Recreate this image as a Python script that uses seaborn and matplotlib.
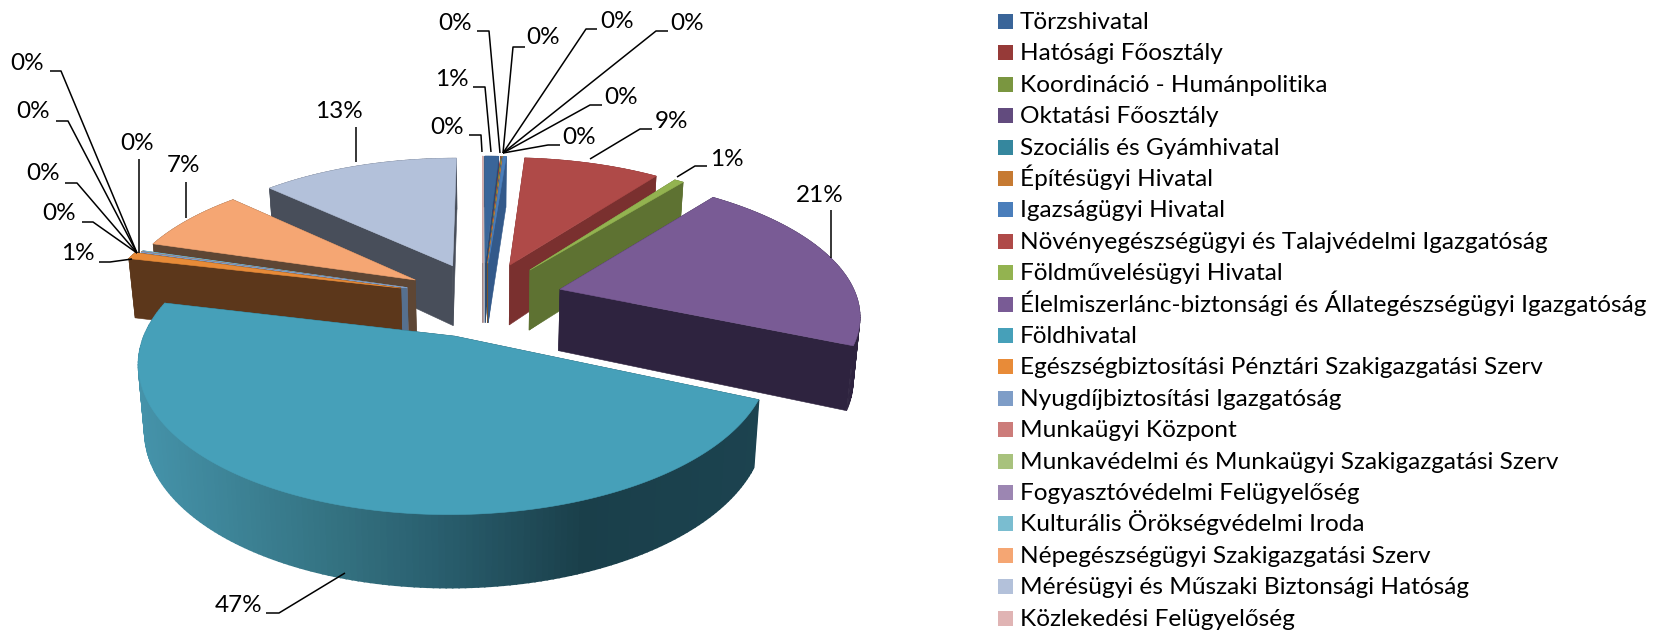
import numpy as np
import matplotlib
matplotlib.use("Agg")
import matplotlib.pyplot as plt
from matplotlib.patches import Rectangle
from matplotlib.colors import to_rgb
import seaborn as sns

# ---------- data ----------
categories = ["Törzshivatal", "Hatósági Főosztály", "Koordináció - Humánpolitika", "Oktatási Főosztály",
              "Szociális és Gyámhivatal", "Építésügyi Hivatal", "Igazságügyi Hivatal",
              "Növényegészségügyi és Talajvédelmi Igazgatóság", "Földművelésügyi Hivatal",
              "Élelmiszerlánc-biztonsági és Állategészségügyi Igazgatóság", "Földhivatal",
              "Egészségbiztosítási Pénztári Szakigazgatási Szerv", "Nyugdíjbiztosítási Igazgatóság",
              "Munkaügyi Központ", "Munkavédelmi és Munkaügyi Szakigazgatási Szerv",
              "Fogyasztóvédelmi Felügyelőség", "Kulturális Örökségvédelmi Iroda",
              "Népegészségügyi Szakigazgatási Szerv", "Mérésügyi és Műszaki Biztonsági Hatóság",
              "Közlekedési Felügyelőség"]
values = [0.9, 0.03, 0.05, 0.01, 0.01, 0.01, 0.2, 8.85, 0.6, 20.9, 47.2,
          0.8, 0.02, 0.02, 0.02, 0.04, 0.10, 7.4, 12.85, 0.02]

# ---------- style ----------
colors = ["#3A6599", "#A03E3C", "#7A9640", "#624B7E", "#35879E", "#C67A32", "#4A7EBB", "#AF4A48",
          "#93B350", "#795B95", "#46A0B9", "#E88B38", "#7E9DC7", "#CC7C7A", "#A8C27D", "#9C86B2",
          "#7ABDD0", "#F5A673", "#B3C1DA", "#DDB0B0"]
wall_colors = ["#2C4A70", "#6F2B2A", "#56692E", "#40325A", "#255E6E", "#8C5520", "#33598A", "#7A302F",
               "#5E7232", "#2E233F", "#1C4350", "#5C371B", "#56708F", "#8F5553", "#768A58", "#6C5D7D",
               "#3E5F74", "#5E4634", "#484E5A", "#9A7A7A"]
legend_colors = ["#3A6599", "#963A38", "#7A9640", "#624B7E", "#35879E", "#C67A32", "#4A7EBB", "#AF4A48",
                 "#93B350", "#795B95", "#46A0B9", "#E88B38", "#7E9DC7", "#CC7C7A", "#A8C27D", "#9C86B2",
                 "#7ABDD0", "#F5A673", "#B3C1DA", "#E0B4B4"]
explode = [0.27] * 10 + [0.285, 0.29] + [0.27] * 8

sns.set_theme(style="white")
plt.rcParams['font.family'] = ['Lato', 'DejaVu Sans']
palette = sns.color_palette(colors)

fig = plt.figure(figsize=(16.63, 6.31), dpi=100)
ax = fig.add_axes([0, 0, 1, 1])
ax.set_xlim(0, 1663)
ax.set_ylim(631, 0)
ax.axis("off")

# ---------- projection ----------
Px, Py, A, B, K, D = 483, 298, 297, 135, 0.164, 62

def project(u, v, z=0.0):
    s = 1 / (1 + K * v)
    x = Px + A * u * s * (1 - 0.018 * z)
    y = Py - B * v * s + z * D * (1 - 0.14 * v)
    return x, y

teal_x = [140, 345, 430, 583, 770]
teal_rgb = np.array([to_rgb(c) for c in ["#4593AA", "#33707F", "#2A6070", "#1A3F4A", "#1C4350"]])

def teal_shade(x):
    return tuple(np.interp(x, teal_x, teal_rgb[:, i]) for i in range(3))

def fill(xs, ys, c, zorder, lw=0.4):
    ax.fill(xs, ys, facecolor=c, edgecolor=c, linewidth=lw, zorder=zorder)

shares = np.array(values) / np.sum(values)
edges = np.concatenate([[0], np.cumsum(shares)]) * 2 * np.pi

def draw_slice(i, z):
    t0, t1 = edges[i], edges[i + 1]
    m = (t0 + t1) / 2
    cu, cv = explode[i] * np.sin(m), explode[i] * np.cos(m)
    n = max(2, int(np.degrees(t1 - t0) / 1.0) + 2)
    t = np.linspace(t0, t1, n)
    u = cu + np.sin(t)
    v = cv + np.cos(t)
    ou = np.r_[cu, u, cu]
    ov = np.r_[cv, v, cv]
    quads = []
    for k in range(len(ou) - 1):
        uu = [ou[k], ou[k + 1]]
        vv = [ov[k], ov[k + 1]]
        quads.append((np.mean(vv), uu, vv, k == 0 or k == len(ou) - 2))
    quads.sort(key=lambda q: -q[0])
    for _, uu, vv, radial in quads:
        xt, yt = project(np.array(uu), np.array(vv), 0)
        xb, yb = project(np.array(uu), np.array(vv), 1)
        c = wall_colors[i]
        lw = 0.4
        if i == 10 and not radial:
            c = teal_shade(np.mean(xt))
            lw = 1.2
        fill(np.r_[xt, xb[::-1]], np.r_[yt, yb[::-1]], c, z, lw)
    xt, yt = project(ou, ov, 0)
    fill(xt, yt, palette[i], z + 0.5)

# painter's order, back to front
order = [19, 18, 17, 16, 15, 14, 13, 12, 11, 0, 1, 2, 3, 4, 5, 6, 7, 8, 9, 10]
for z, i in enumerate(order):
    draw_slice(i, 2 + z)

# ---------- percentage labels and leaders ----------
label_xy = [(452, 79), (455, 23), (543, 37), (617, 21), (687, 23), (621, 97), (579, 137),
            (672, 121), (727, 159), (820, 195), (239, 606), (78, 253), (59, 214), (43, 174),
            (33, 112), (27, 63), (137, 143), (184, 166), (339, 112), (447, 127)]
leader_x = [(473, 485, 491), (477, 489, 500), (525, 513, 503), (597, 586, 503), (668, 656, 503),
            (602, 590, 503), (560, 548, 503), (652, 640, 590), (707, 695, 677), (831, 831, 831),
            (266, 279, 345), (99, 110, 132), (82, 93, 137), (65, 77, 137), (56, 68, 137),
            (50, 61, 137), (139, 139, 139), (186, 186, 186), (356, 356, 356), (469, 481, 482)]
leader_y = [(87, 87, 152), (31, 31, 153), (47, 47, 153), (29, 29, 153), (31, 31, 153),
            (105, 105, 153), (145, 145, 153), (129, 129, 159), (166, 166, 177), (210, 210, 258),
            (613, 613, 573), (262, 262, 259), (222, 222, 253), (183, 183, 253), (121, 121, 253),
            (71, 71, 253), (159, 159, 253), (182, 182, 218), (127, 127, 162), (135, 135, 152)]

for i, v in enumerate(shares):
    ax.text(*label_xy[i], f"{round(v * 100)}%", ha="center", va="center", fontsize=17.5, color="black", zorder=60)
    ax.plot(leader_x[i], leader_y[i], color="black", lw=1.1, zorder=50, solid_capstyle="butt", solid_joinstyle="round")

# ---------- legend ----------
for i, (name, c) in enumerate(zip(categories, legend_colors)):
    yc = 21.5 + 31.4 * i
    ax.add_patch(Rectangle((998, yc - 7.5), 15, 15, facecolor=c, edgecolor="none", zorder=5))
    ax.text(1020, yc + 7.5, name, ha="left", va="baseline", fontsize=17.6, color="black", zorder=5)

fig.savefig("out.png", dpi=100, facecolor="white")
